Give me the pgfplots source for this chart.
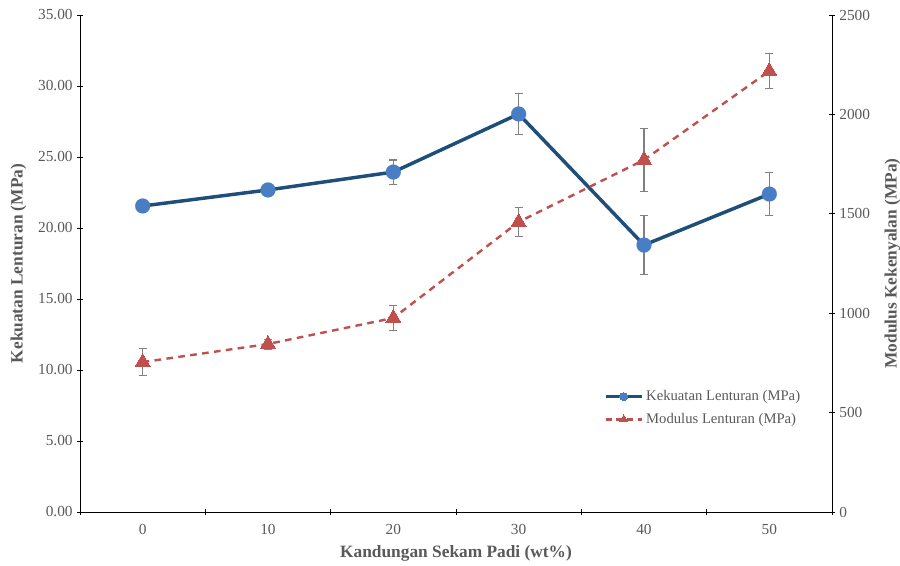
\documentclass[border=0pt]{standalone}
\usepackage{pgfplots}
\pgfplotsset{compat=1.18}
\usepackage{fontspec}
\setmainfont{Liberation Serif}
\definecolor{txt}{HTML}{595959}
\definecolor{blueline}{HTML}{1F4E79}
\definecolor{bluemark}{HTML}{4A7EC4}
\definecolor{redc}{HTML}{C0504D}
\begin{document}
\begin{tikzpicture}[x=0.75pt,y=0.75pt]
\pgfplotsset{
  common/.style={
    scale only axis, width=564pt, height=372.75pt,
    at={(0,0)}, anchor=south west,
    xmin=-0.5, xmax=5.5,
    /pgf/number format/assume math mode=true,
    /pgf/number format/1000 sep={},
    tick label style={font=\fontsize{11.5}{13}\selectfont, text=txt},
    axis line style={black, line width=0.6pt},
    tick style={black, line width=0.6pt},
    tick align=outside, major tick length=4pt,
  }
}
\begin{axis}[common,
  axis x line=bottom, axis y line=left,
  x axis line style={-}, y axis line style={-},
  ymin=0, ymax=35, ytick={0,5,...,35},
  yticklabel style={/pgf/number format/.cd, fixed, fixed zerofill, precision=2},
  xtick={0,...,5}, xticklabels={0,10,20,30,40,50},
  xticklabel style={yshift=-4pt},
  minor xtick={-0.5,0.5,...,5.5},
  major x tick style={draw=none},
  minor tick length=4pt,
  xlabel={Kandungan Sekam Padi (wt\%)},
  ylabel={Kekuatan Lenturan (MPa)},
  ylabel style={font=\bfseries\fontsize{13}{15}\selectfont, text=txt, yshift=2pt},
  xlabel style={font=\bfseries\fontsize{13}{15}\selectfont, text=txt, yshift=-1pt},
]
\addplot[blueline, line width=2.6pt, mark=*, mark size=5.6pt,
  mark options={fill=bluemark, draw=bluemark, line width=0.1pt},
  error bars/.cd, y dir=both, y explicit,
  error bar style={gray, line width=0.8pt},
  error mark options={rotate=90, mark size=3pt, gray, line width=0.8pt}]
coordinates {
 (0,21.55) +- (0,0.3)
 (1,22.68) +- (0,0.3)
 (2,23.94) +- (0,0.85)
 (3,28.03) +- (0,1.45)
 (4,18.80) +- (0,2.1)
 (5,22.39) +- (0,1.5)
};
\end{axis}
\begin{axis}[common,
  axis y line=right, axis x line=none,
  y axis line style={-},
  ymin=0, ymax=2500, ytick={0,500,...,2500},
  ylabel={Modulus Kekenyalan (MPa)},
  ylabel style={font=\bfseries\fontsize{13}{15}\selectfont, text=txt, yshift=-4pt},
  legend style={draw=none, fill=none, at={(0.829,0.209)}, anchor=center,
    font=\fontsize{11}{13}\selectfont, text=txt, row sep=4pt,
    legend cell align=left},
  legend image code/.code={
    \draw[#1] (0cm,0cm) -- (0.95cm,0cm);
    \draw[#1, mark repeat=1] plot coordinates {(0.475cm,0cm)};
  },
]
\addlegendimage{blueline, line width=2.6pt, mark=*, mark size=3pt, mark options={fill=bluemark, draw=bluemark, line width=0pt}}
\addlegendentry{Kekuatan Lenturan (MPa)}
\addlegendimage{redc, line width=1.8pt, dash pattern=on 4.5pt off 3.5pt, mark=triangle*, mark size=3.6pt, mark options={solid, fill=redc, draw=redc, line width=0pt}}
\addlegendentry{Modulus Lenturan (MPa)}
\addplot[forget plot, redc, line width=1.8pt, dash pattern=on 5pt off 4pt,
  mark=triangle*, mark size=6.5pt,
  mark options={solid, fill=redc, draw=redc, line width=0pt},
  error bars/.cd, y dir=both, y explicit,
  error bar style={gray, line width=0.8pt, solid},
  error mark options={rotate=90, mark size=3pt, gray, line width=0.8pt},
  ]
coordinates {
 (0,754) +- (0,68)
 (1,845) +- (0,25)
 (2,976) +- (0,65)
 (3,1459) +- (0,75)
 (4,1771) +- (0,160)
 (5,2218) +- (0,90)
};
\end{axis}
\pgfresetboundingbox
\useasboundingbox (-80,-53) rectangle (820,512);
\end{tikzpicture}
\end{document}
